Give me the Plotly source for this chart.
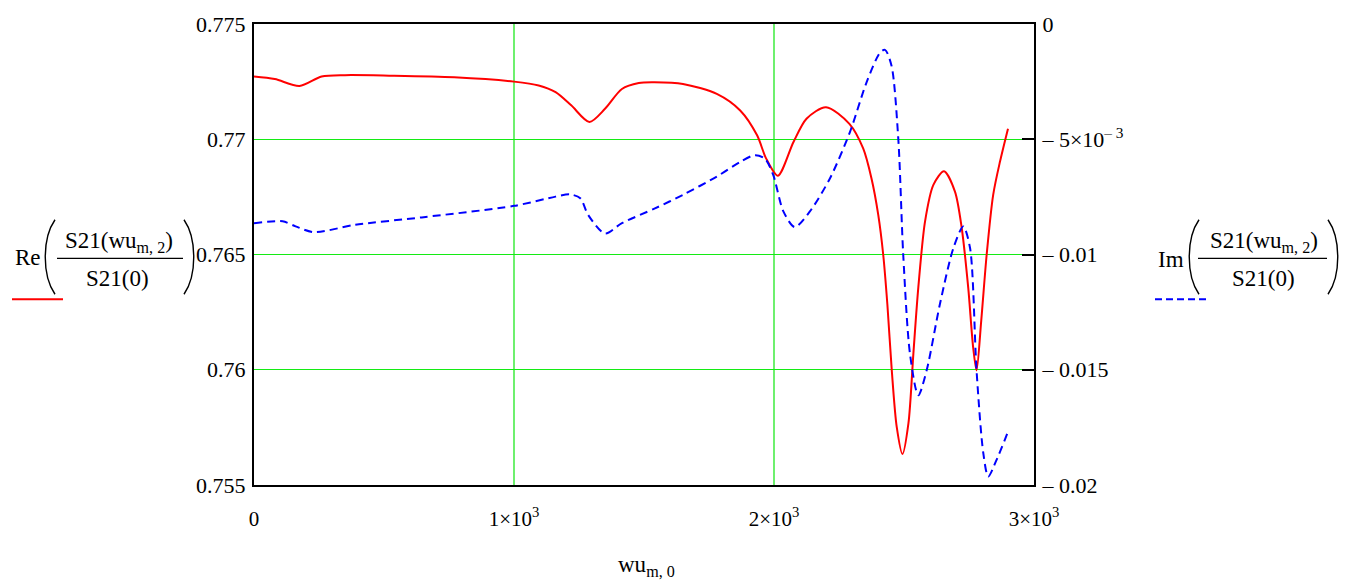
import plotly.graph_objects as go

# ---- data ----
x_re = [0, 80, 175, 260, 350, 520, 770, 1000, 1095, 1160, 1220, 1290, 1350, 1415, 1480, 1540,
        1650, 1780, 1870, 1935, 1970, 2015, 2075, 2125, 2200, 2290, 2343, 2375, 2401, 2420, 2436,
        2453, 2472, 2494, 2517, 2536, 2555, 2581, 2613, 2654, 2696, 2722, 2747, 2766, 2779, 2797,
        2818, 2843, 2869, 2900]
re_vals = [0.77272, 0.77261, 0.77231, 0.77272, 0.77278, 0.77276, 0.77269, 0.77250, 0.77233, 0.77204,
           0.77147, 0.77075, 0.77132, 0.77218, 0.77244, 0.77247, 0.77240, 0.77197, 0.77125, 0.77017,
           0.76916, 0.76842, 0.76988, 0.77089, 0.77139, 0.77067, 0.76960, 0.76830, 0.76672, 0.76500,
           0.76284, 0.75997, 0.75752, 0.75634, 0.75767, 0.76069, 0.76356, 0.76644, 0.76802, 0.76861,
           0.76773, 0.76615, 0.76356, 0.76097, 0.75997, 0.76212, 0.76500, 0.76759, 0.76902, 0.77046]

x_im = [0, 110, 160, 230, 390, 645, 1000, 1160, 1215, 1255, 1285, 1350, 1415, 1540, 1650, 1780,
        1870, 1927, 1965, 1997, 2036, 2080, 2138, 2215, 2292, 2356, 2408, 2427, 2452, 2478, 2497,
        2523, 2555, 2587, 2638, 2690, 2728, 2754, 2779, 2805, 2824, 2856, 2900]
im_vals = [-0.00864, -0.00856, -0.00878, -0.00903, -0.00871, -0.00839, -0.00789, -0.00749, -0.00739,
           -0.00756, -0.00828, -0.00909, -0.00864, -0.00801, -0.00741, -0.00662, -0.00598, -0.00569,
           -0.00584, -0.00655, -0.00813, -0.00881, -0.00813, -0.00670, -0.00469, -0.00253, -0.00124,
           -0.00112, -0.00181, -0.00497, -0.01000, -0.01431, -0.01611, -0.01503, -0.01216, -0.00972,
           -0.00878, -0.00972, -0.01503, -0.01862, -0.01963, -0.01891, -0.01769]

x_ticks = [0, 1000, 2000, 3000]
x_tick_labels = ["0", "1×10<sup>3</sup>", "2×10<sup>3</sup>", "3×10<sup>3</sup>"]
re_ticks = [0.755, 0.76, 0.765, 0.77, 0.775]
re_tick_labels = ["0.755", "0.76", "0.765", "0.77", "0.775"]
im_ticks = [-0.02, -0.015, -0.01, -0.005, 0]
im_tick_labels = ["– 0.02", "– 0.015", "– 0.01", "– 5×10<sup>– 3</sup>", "0"]

# ---- layout geometry ----
W, H = 1348, 585
L, R, T, B = 254, 314, 21, 100
PW, PH = W - L - R, H - T - B
FONT = "Liberation Serif"
TICK_SIZE = 22
LABEL_SIZE = 23


def px(x):
    return (x - L) / PW


def py(y):
    return (H - B - y) / PH


def pt(x, y):
    return f"{px(x):.5f},{py(y):.5f}"


fig = go.Figure()
fig.add_trace(go.Scatter(x=x_re, y=re_vals, mode="lines",
                         line=dict(color="red", width=2, shape="spline", smoothing=0.8),
                         showlegend=False, yaxis="y"))
fig.add_trace(go.Scatter(x=x_im, y=im_vals, mode="lines",
                         line=dict(color="blue", width=2, dash="8px,5px", shape="spline", smoothing=0.8),
                         showlegend=False, yaxis="y2"))

fig.update_layout(
    width=W, height=H,
    margin=dict(l=L, r=R, t=T, b=B),
    paper_bgcolor="white", plot_bgcolor="white",
    font=dict(family=FONT, size=TICK_SIZE, color="black"),
    xaxis=dict(range=[0, 3000], tickvals=x_ticks, ticktext=x_tick_labels, showgrid=True,
               gridcolor="rgb(110,240,110)", gridwidth=1.5, zeroline=False, showline=True, mirror=True,
               linecolor="black", linewidth=2, ticks="", ticklabelstandoff=14,
               tickfont=dict(family=FONT, size=21)),
    yaxis=dict(range=[0.755, 0.775], tickvals=re_ticks, ticktext=re_tick_labels, showgrid=True,
               gridcolor="rgb(20,235,20)", gridwidth=1.3, zeroline=False, showline=True, mirror=True,
               linecolor="black", linewidth=2, ticks="", ticklabelstandoff=2,
               tickfont=dict(family=FONT, size=TICK_SIZE)),
    yaxis2=dict(range=[-0.02, 0], tickvals=im_ticks, ticktext=im_tick_labels, overlaying="y",
                side="right", showgrid=False, zeroline=False, showline=True, linecolor="black",
                linewidth=2, ticks="inside", ticklen=12, tickwidth=2, tickcolor="black",
                ticklabelstandoff=2, tickfont=dict(family=FONT, size=TICK_SIZE)),
)

shapes = []
annotations = []


def paren(x_end, x_bulge, y_top, y_bot):
    ym1 = y_top + (y_bot - y_top) * 0.25
    ym2 = y_top + (y_bot - y_top) * 0.75
    path = f"M {pt(x_end, y_top)} C {pt(x_bulge, ym1)} {pt(x_bulge, ym2)} {pt(x_end, y_bot)}"
    shapes.append(dict(type="path", xref="paper", yref="paper", path=path,
                       line=dict(color="black", width=1.4)))


def text(x, y, s, size=LABEL_SIZE, xanchor="center"):
    annotations.append(dict(x=px(x), y=py(y), xref="paper", yref="paper", text=s, showarrow=False,
                            xanchor=xanchor, yanchor="middle",
                            font=dict(family=FONT, size=size, color="black")))


def hline(x0, x1, y, color="black", width=1.3, dash=None):
    ln = dict(color=color, width=width)
    if dash:
        ln["dash"] = dash
    shapes.append(dict(type="line", xref="paper", yref="paper", x0=px(x0), x1=px(x1),
                       y0=py(y), y1=py(y), line=ln))


# Left label: Re( S21(wu_m,2) / S21(0) )
text(28, 256, "Re")
paren(55, 42, 218, 293)
paren(184, 197, 218, 293)
text(119, 240, "S21(wu<sub>m, 2</sub>)")
hline(57, 183, 257)
text(117, 277, "S21(0)")
hline(12, 63, 298, color="red", width=2)

# Right label: Im( S21(wu_m,2) / S21(0) )
text(1171, 258, "Im")
paren(1199, 1186, 218, 293)
paren(1328, 1341, 218, 293)
text(1264, 240, "S21(wu<sub>m, 2</sub>)")
hline(1198, 1327, 257)
text(1263, 277, "S21(0)")
hline(1155, 1206, 298, color="blue", width=2, dash="7px,4px")

# x axis title
text(646, 567, "wu<sub>m, 0</sub>")

fig.update_layout(shapes=shapes, annotations=annotations)
fig.write_html("out.html")
